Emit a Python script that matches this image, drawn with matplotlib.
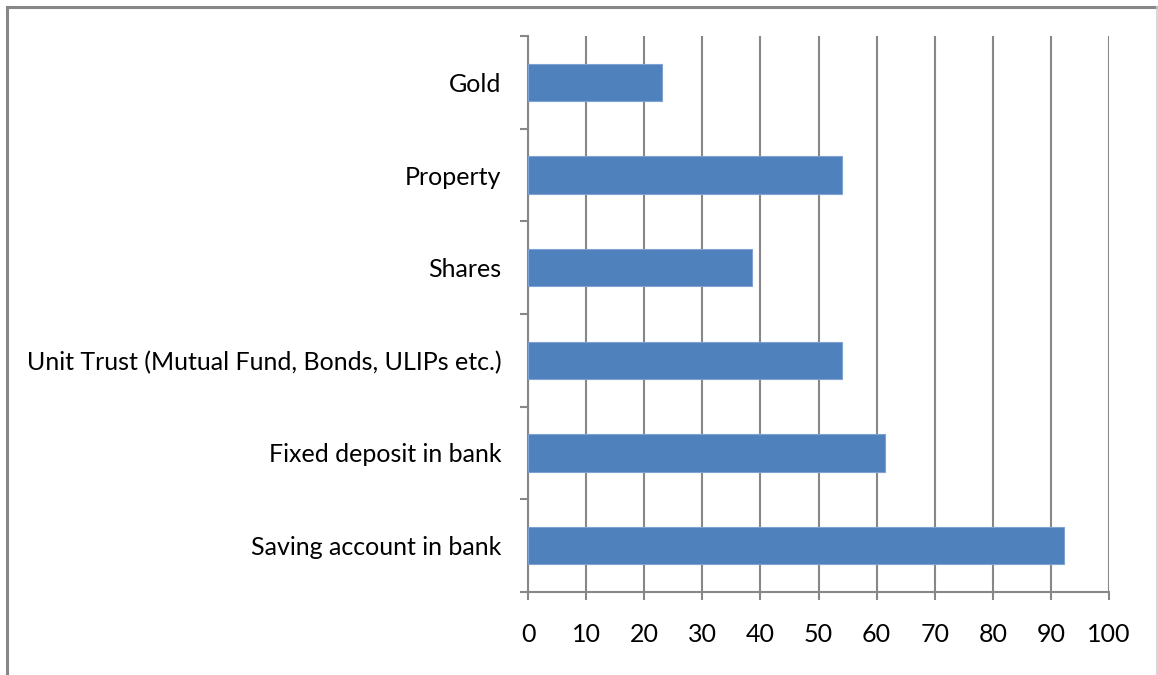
import matplotlib.pyplot as plt
from matplotlib.lines import Line2D
import numpy as np

# categories from bottom to top
categories = ['Saving account in bank', 'Fixed deposit in bank',
              'Unit Trust (Mutual Fund, Bonds, ULIPs etc.)', 'Shares',
              'Property', 'Gold']
values = [92.3, 61.4, 54, 38.6, 54, 23.1]
x_ticks = list(range(0, 101, 10))

plt.rcParams['font.family'] = ['Lato', 'DejaVu Sans']
grey = '#878787'

fig = plt.figure(figsize=(11.58, 6.75), dpi=100)
ax = fig.add_axes([528 / 1158, 1 - 592 / 675, (1109 - 528) / 1158, (592 - 36) / 675])

y = np.arange(len(categories))
ax.barh(y, values, height=0.4, color='#4F81BD', edgecolor='#7EA3D3', linewidth=0.8, zorder=3)

ax.set_xlim(0, 100)
ax.set_ylim(-0.5, len(categories) - 0.5)
ax.set_xticks(x_ticks)
ax.set_xticklabels([str(t) for t in x_ticks], fontsize=18)
ax.tick_params(axis='x', direction='out', length=6, width=1.5, color=grey, pad=16)

# y ticks on the category boundaries, labels on the centres
ax.set_yticks(np.arange(-0.5, len(categories), 1.0))
ax.set_yticklabels([])
ax.set_yticks(y, minor=True)
ax.set_yticklabels(categories, minor=True, fontsize=18)
ax.tick_params(axis='y', which='major', direction='out', length=6, width=1.5, color=grey)
ax.tick_params(axis='y', which='minor', length=0, pad=19)

ax.grid(axis='x', color=grey, linewidth=1.5, zorder=0)
ax.set_axisbelow(True)
for side in ['top', 'right']:
    ax.spines[side].set_visible(False)
for side in ['left', 'bottom']:
    ax.spines[side].set_color(grey)
    ax.spines[side].set_linewidth(1.5)

# outer chart border
fig.add_artist(Line2D([7 / 1158, 7 / 1158], [0, 1 - 7 / 675], transform=fig.transFigure,
                      color=grey, linewidth=2.2))
fig.add_artist(Line2D([7 / 1158, 1157 / 1158], [1 - 7 / 675, 1 - 7 / 675], transform=fig.transFigure,
                      color=grey, linewidth=2.2))
fig.add_artist(Line2D([1157 / 1158, 1157 / 1158], [0, 1 - 7 / 675], transform=fig.transFigure,
                      color='#cfcfcf', linewidth=1.2))

fig.savefig('out.png', dpi=100)
